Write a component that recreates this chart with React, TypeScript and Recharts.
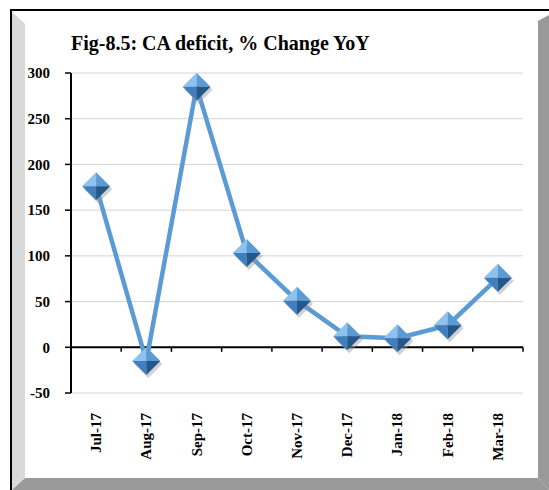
import React from 'react';
import { LineChart, Line, XAxis, YAxis, CartesianGrid, ReferenceLine } from 'recharts';

const categories = ['Jul-17', 'Aug-17', 'Sep-17', 'Oct-17', 'Nov-17', 'Dec-17', 'Jan-18', 'Feb-18', 'Mar-18'];
const values = [176, -15, 285, 103, 51, 12, 10, 24, 76];
const yTicks = [-50, 0, 50, 100, 150, 200, 250, 300];
const title = 'Fig-8.5: CA deficit, % Change YoY';

const data = categories.map((c, i) => ({ i, label: categories[i], v: values[i] }));
const xTicks = categories.map((_, i) => i);
const boundaries = Array.from({ length: categories.length + 1 }, (_, k) => k - 0.5);

const FONT = '"Liberation Serif", "Times New Roman", serif';

const Diamond = (props: any) => {
  const { cx, cy, index } = props;
  if (cx == null || cy == null) return null;
  const h = 14;
  const id = `d${index}`;
  return (
    <g key={id}>
      <polygon points={`${cx + 2},${cy - h + 3} ${cx + h + 2},${cy + 3} ${cx + 2},${cy + h + 3} ${cx - h + 2},${cy + 3}`} fill="#9a9a9a" opacity={0.45} />
      <polygon points={`${cx},${cy - h} ${cx},${cy} ${cx - h},${cy}`} fill="#8ec1ee" />
      <polygon points={`${cx},${cy - h} ${cx + h},${cy} ${cx},${cy}`} fill="#5b9bd5" />
      <polygon points={`${cx - h},${cy} ${cx},${cy} ${cx},${cy + h}`} fill="#3f7fbd" />
      <polygon points={`${cx},${cy} ${cx + h},${cy} ${cx},${cy + h}`} fill="#24578a" />
    </g>
  );
};

const XTick = (props: any) => {
  const { x, y, payload } = props;
  return (
    <text
      transform={`translate(${x + 5},${y + 12}) rotate(-90)`}
      textAnchor="end"
      fontFamily={FONT}
      fontWeight="bold"
      fontSize={15}
      fill="#000"
    >
      {categories[payload.value]}
    </text>
  );
};

export default function App() {
  return (
    <div style={{ position: 'absolute', left: 0, top: 0, width: 549, height: 490, background: '#fff', overflow: 'hidden' }}>
      <svg width={549} height={490} style={{ position: 'absolute', left: 0, top: 0 }}>
        <rect x={10} y={9} width={560} height={2} fill="#000" />
        <rect x={10} y={9} width={2} height={500} fill="#000" />
        <polygon points="12,12 25,24 25,478 12,490" fill="#d9d9d9" />
        <polygon points="549,15 538,21 538,478 549,490" fill="#999999" />
        <polygon points="12,490 25,478 538,478 549,490" fill="#999999" />
        <text x={71} y={50} fontFamily={FONT} fontWeight="bold" fontSize={20} fill="#000">
          {title}
        </text>
      </svg>
      <div style={{ position: 'absolute', left: 0, top: 0 }}>
        <LineChart width={549} height={490} data={data} margin={{ top: 73, right: 26, bottom: 17, left: 21 }}>
          <CartesianGrid horizontal vertical={false} stroke="#d4d4d4" strokeWidth={1} />
          <XAxis
            dataKey="i"
            type="number"
            domain={[-0.5, categories.length - 0.5]}
            ticks={xTicks}
            interval={0}
            axisLine={false}
            tickLine={false}
            height={80}
            tick={<XTick />}
          />
          <YAxis
            domain={[-50, 300]}
            ticks={yTicks}
            interval={0}
            width={50}
            axisLine={{ stroke: '#000', strokeWidth: 2 }}
            tickLine={{ stroke: '#000', strokeWidth: 1.5 }}
            tickSize={6}
            tickMargin={15}
            tick={{ fontFamily: FONT, fontWeight: 'bold', fontSize: 15, fill: '#000' }}
          />
          <ReferenceLine y={0} stroke="#000" strokeWidth={2} ifOverflow="extendDomain" />
          {boundaries.map((b) => (
            <ReferenceLine key={b} segment={[{ x: b, y: 0 }, { x: b, y: -5 }]} stroke="#000" strokeWidth={1.5} />
          ))}
          <Line
            dataKey="v"
            stroke="#5b9bd5"
            strokeWidth={4.5}
            isAnimationActive={false}
            dot={<Diamond />}
            activeDot={false}
          />
        </LineChart>
      </div>
    </div>
  );
}
